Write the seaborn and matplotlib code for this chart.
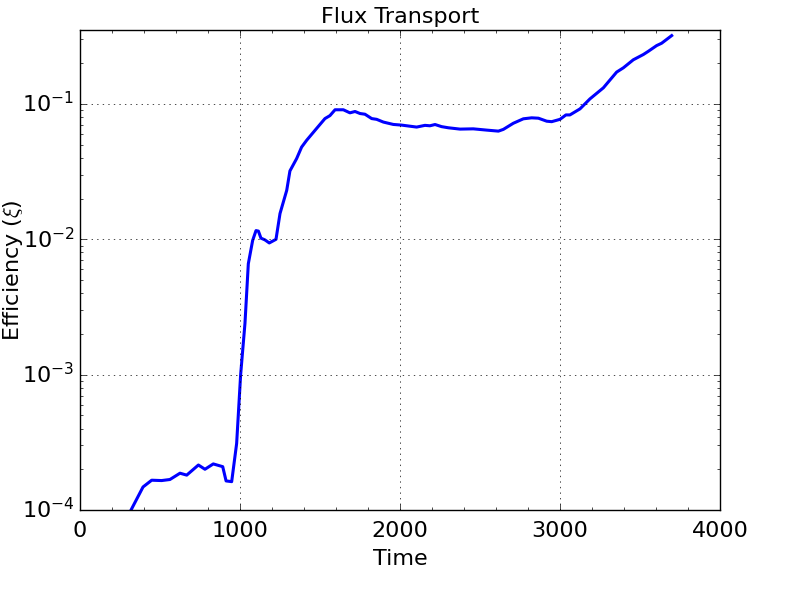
import numpy as np
import pandas as pd
import seaborn as sns
import matplotlib
import matplotlib.pyplot as plt
from matplotlib.ticker import MultipleLocator, LogLocator

# values
time = [319, 394, 448, 510, 562, 625, 667, 740, 781, 833, 892, 913, 948,
        979, 1004, 1031, 1052, 1079, 1100, 1115, 1131, 1156, 1183, 1225,
        1250, 1292, 1312, 1354, 1385, 1417, 1479, 1531, 1562, 1594, 1646,
        1687, 1719, 1750, 1781, 1823, 1854, 1896, 1958, 2010, 2104, 2156,
        2187, 2219, 2260, 2302, 2375, 2458, 2542, 2615, 2646, 2708, 2771,
        2823, 2865, 2917, 2948, 3000, 3037, 3062, 3125, 3187, 3271, 3354,
        3396, 3458, 3521, 3552, 3604, 3635, 3698]
efficiency = [1.0e-4, 1.48e-4, 1.66e-4, 1.65e-4, 1.68e-4, 1.87e-4, 1.81e-4,
              2.15e-4, 2.0e-4, 2.19e-4, 2.09e-4, 1.64e-4, 1.62e-4,
              3.1e-4, 1.0e-3, 2.39e-3, 6.6e-3, 9.8e-3, 1.16e-2, 1.15e-2,
              1.02e-2, 9.9e-3, 9.4e-3, 1.0e-2, 1.55e-2, 2.3e-2, 3.2e-2,
              3.95e-2, 4.8e-2, 5.4e-2, 6.6e-2, 7.8e-2, 8.2e-2, 9.06e-2,
              9.06e-2, 8.6e-2, 8.8e-2, 8.5e-2, 8.4e-2, 7.8e-2, 7.7e-2,
              7.35e-2, 7.06e-2, 6.98e-2, 6.75e-2, 6.95e-2, 6.9e-2, 7.05e-2,
              6.8e-2, 6.67e-2, 6.52e-2, 6.55e-2, 6.41e-2, 6.3e-2, 6.49e-2,
              7.2e-2, 7.77e-2, 7.9e-2, 7.85e-2, 7.46e-2, 7.4e-2, 7.7e-2,
              8.3e-2, 8.3e-2, 9.2e-2, 0.109, 0.1316, 0.172, 0.185, 0.212,
              0.232, 0.245, 0.27, 0.281, 0.32]

df = pd.DataFrame({"Time": time, "Efficiency": efficiency})

plt.style.use("classic")
plt.rcParams["font.size"] = 16

fig, ax = plt.subplots(figsize=(8, 6), dpi=100)
fig.patch.set_facecolor("white")
fig.subplots_adjust(left=0.1, right=0.9, bottom=0.15, top=0.95)

sns.lineplot(data=df, x="Time", y="Efficiency", color="b", linewidth=2.2, ax=ax)

ax.set_yscale("log")
ax.set_xlim(0, 4000)
ax.set_ylim(1e-4, 0.352)
ax.xaxis.set_major_locator(MultipleLocator(1000))
ax.xaxis.set_minor_locator(MultipleLocator(200))
ax.yaxis.set_minor_locator(LogLocator(base=10, subs=np.arange(2, 10)))
ax.grid(True, which="major", linestyle=":", color="k")

ax.set_title("Flux Transport", fontsize=16)
ax.set_xlabel("Time", fontsize=16, labelpad=6)
ax.set_ylabel(r"Efficiency ($\xi$)", fontsize=16, labelpad=-2)
ax.tick_params(labelsize=16)
ax.tick_params(axis="x", pad=8)

plt.savefig("out.png", dpi=100, facecolor="white")
